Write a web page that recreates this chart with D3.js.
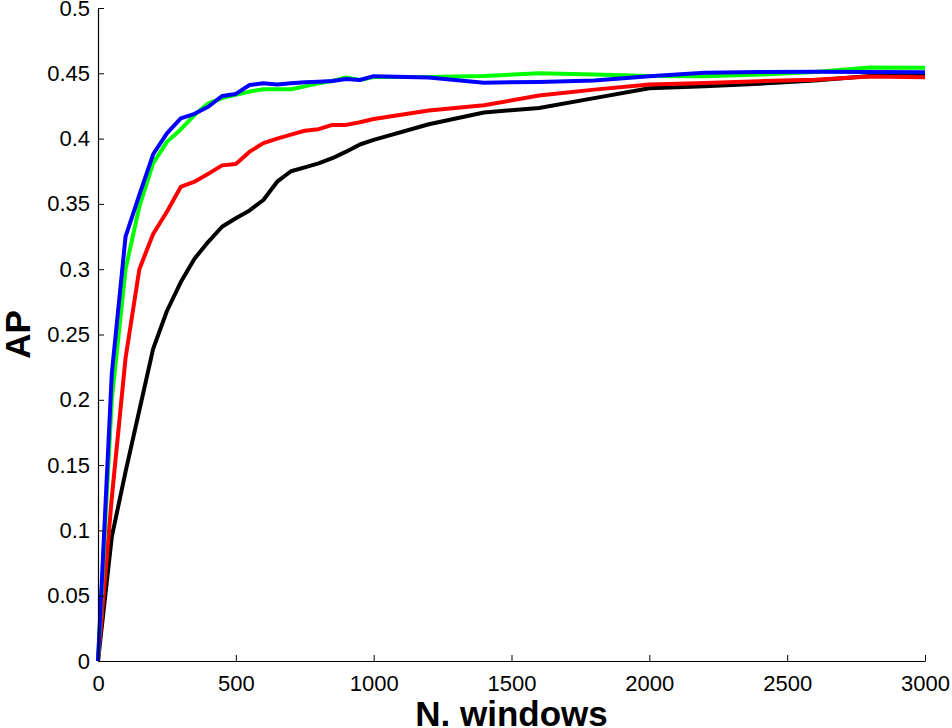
<!DOCTYPE html>
<html>
<head>
<meta charset="utf-8">
<script src="https://cdn.jsdelivr.net/npm/d3@7"></script>
<style>
  html, body { margin: 0; padding: 0; background: #fff; }
  svg { display: block; }
  text { font-family: "Liberation Sans", Arial, Helvetica, sans-serif; }
</style>
</head>
<body>
<svg id="chart" width="952" height="728"></svg>
<script>
// ---- data ----
const nWindows = [0, 50, 100, 150, 200, 250, 300, 350, 400, 450, 500, 550, 600, 650, 700, 750, 800, 850, 900, 950, 1000,
                  1200, 1400, 1600, 1800, 2000, 2200, 2400, 2600, 2800, 3000];
const apBlack = [0, 0.095, 0.145, 0.192, 0.239, 0.268, 0.290, 0.308, 0.321, 0.3325, 0.339, 0.345, 0.353, 0.367, 0.375, 0.378, 0.381, 0.385, 0.390, 0.3955, 0.399,
                 0.411, 0.420, 0.4235, 0.431, 0.4385, 0.440, 0.442, 0.4445, 0.448, 0.449];
const apRed = [0, 0.125, 0.232, 0.300, 0.327, 0.344, 0.363, 0.367, 0.373, 0.3795, 0.3805, 0.390, 0.3965, 0.400, 0.403, 0.406, 0.4072, 0.4105, 0.4105, 0.4125, 0.415,
               0.4215, 0.4255, 0.433, 0.4375, 0.4415, 0.4425, 0.444, 0.445, 0.4475, 0.447];
const apGreen = [0, 0.200, 0.300, 0.348, 0.381, 0.3975, 0.407, 0.418, 0.427, 0.431, 0.4335, 0.436, 0.4378, 0.4378, 0.4378, 0.440, 0.4423, 0.4441, 0.4469, 0.4449, 0.4472,
                 0.4472, 0.448, 0.450, 0.449, 0.448, 0.4478, 0.449, 0.451, 0.4545, 0.4543];
const apBlue = [0, 0.220, 0.325, 0.357, 0.388, 0.404, 0.4155, 0.419, 0.4244, 0.4326, 0.4342, 0.441, 0.4423, 0.4415, 0.4423, 0.4431, 0.4436, 0.4441, 0.4457, 0.4449, 0.4478,
                0.4467, 0.4428, 0.4434, 0.4444, 0.4478, 0.4505, 0.451, 0.4512, 0.451, 0.4508];
const seriesNames = ["black", "red", "green", "blue"];
const seriesColors = ["#000000", "#ff0000", "#00ff00", "#0000ff"];
const xTicks = [0, 500, 1000, 1500, 2000, 2500, 3000];
const yTicks = [0, 0.05, 0.1, 0.15, 0.2, 0.25, 0.3, 0.35, 0.4, 0.45, 0.5];
const xLabel = "N. windows";
const yLabel = "AP";

// ---- drawing ----
const svg = d3.select("#chart");
const x = d3.scaleLinear().domain([0, 3000]).range([98, 925]);
const y = d3.scaleLinear().domain([0, 0.5]).range([661, 8]);

const seriesValues = [apBlack, apRed, apGreen, apBlue];

const line = d3.line()
  .x((d, i) => x(nWindows[i]))
  .y(d => y(d));

svg.append("g").selectAll("path")
  .data(seriesValues)
  .join("path")
  .attr("d", d => line(d))
  .attr("fill", "none")
  .attr("stroke", (d, i) => seriesColors[i])
  .attr("stroke-width", 4)
  .attr("stroke-linejoin", "round")
  .attr("stroke-linecap", "butt")
  .attr("class", (d, i) => "series-" + seriesNames[i]);

const xAxis = svg.append("g")
  .attr("transform", `translate(0,${y(0)})`)
  .call(d3.axisBottom(x).tickValues(xTicks).tickFormat(d3.format("d"))
    .tickSizeInner(-6).tickSizeOuter(0).tickPadding(14));
const yAxis = svg.append("g")
  .attr("transform", `translate(${x(0)},0)`)
  .call(d3.axisLeft(y).tickValues(yTicks).tickFormat(d => String(+d.toFixed(2)))
    .tickSizeInner(-6).tickSizeOuter(0).tickPadding(8));

[xAxis, yAxis].forEach(g => {
  g.selectAll("text").attr("font-size", 22).attr("fill", "#000")
    .attr("font-family", "'Liberation Sans', Arial, Helvetica, sans-serif");
  g.selectAll("line").attr("stroke", "#000").attr("stroke-width", 1);
  g.select(".domain").attr("stroke", "#000").attr("stroke-width", 1.2);
});

svg.append("text")
  .attr("x", (x(0) + x(3000)) / 2)
  .attr("y", 726)
  .attr("text-anchor", "middle")
  .attr("font-size", 35)
  .attr("font-weight", "bold")
  .text(xLabel);

svg.append("text")
  .attr("transform", `translate(30,${(y(0) + y(0.5)) / 2}) rotate(-90)`)
  .attr("text-anchor", "middle")
  .attr("font-size", 35)
  .attr("font-weight", "bold")
  .text(yLabel);
</script>
</body>
</html>
